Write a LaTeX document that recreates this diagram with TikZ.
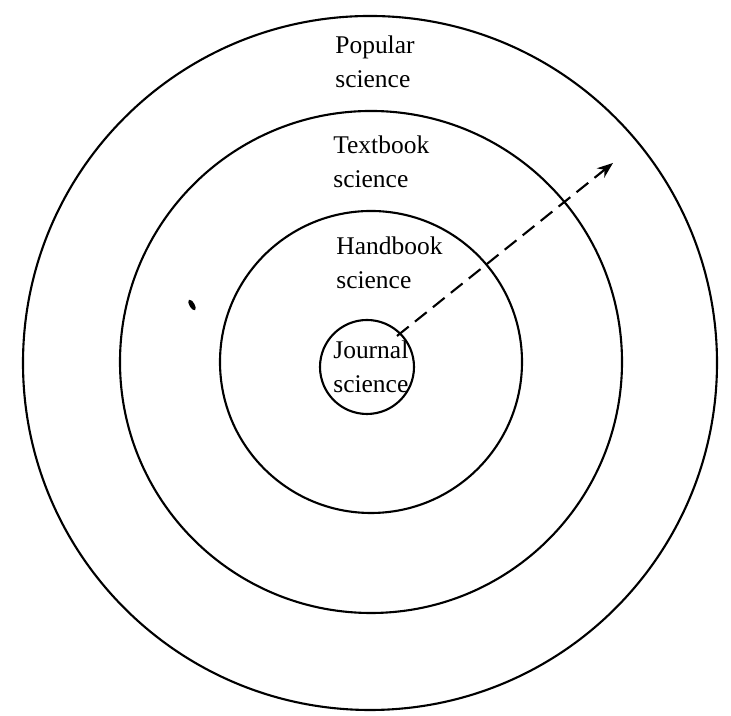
\documentclass[tikz,border=0pt]{standalone}
\usepackage{fontspec}
\setmainfont{Liberation Serif}
\usetikzlibrary{arrows.meta,positioning}

\begin{document}
\begin{tikzpicture}[x=0.2mm, y=0.2mm, >=Stealth,
    every node/.style={font=\fontsize{14.5}{19.5}\selectfont, align=left, anchor=west, inner sep=0pt},
    ring/.style={line width=1.2pt}]
    \useasboundingbox (0,0) rectangle (731,716);
    % the four rings
    \coordinate (popc) at (370,353);
    \coordinate (texc) at (371,354);
    \coordinate (hanc) at (371,354);
    \coordinate (jouc) at (367,349);
    \draw[ring] (popc) circle[radius=69.4mm];
    \draw[ring] (texc) circle[radius=50.2mm];
    \draw[ring] (hanc) circle[radius=30.2mm];
    \draw[ring] (jouc) circle[radius=9.4mm];
    % labels
    \node (popular) at (335,654) {Popular\\science};
    \node (textbook) at (333,554) {Textbook\\science};
    \node (handbook) at (336,453) {Handbook\\science};
    \node (journal) at (333,349) {Journal\\science};
    % dashed arrow outwards
    \coordinate (start) at (397,380);
    \coordinate (tip) at (613,553);
    \draw[->, line width=1.2pt, dash pattern=on 3mm off 1.6mm, -{Stealth[length=3.2mm, width=2.4mm]}] (start) -- (tip);
    % ink spot
    \coordinate (blob) at (192,411);
    \fill[rotate around={30:(blob)}] (blob) ellipse[x radius=0.5mm, y radius=1.2mm];
\end{tikzpicture}
\end{document}
